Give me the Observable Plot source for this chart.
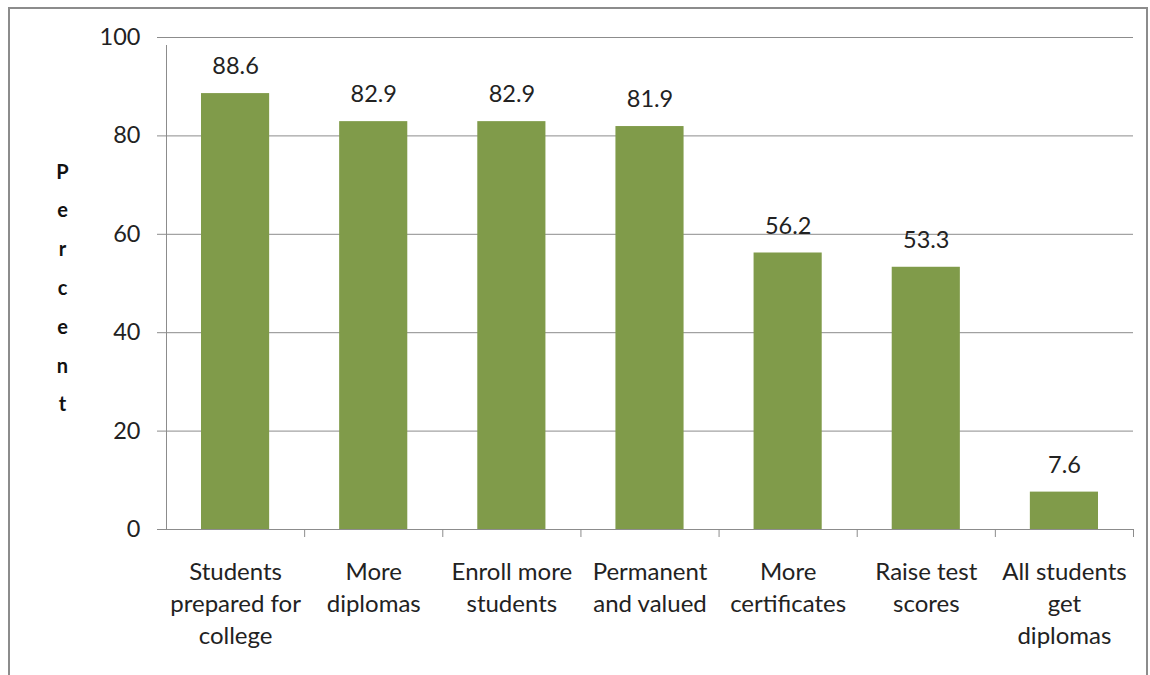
<!DOCTYPE html>
<html>
<head>
<meta charset="utf-8">
<script src="https://cdn.jsdelivr.net/npm/d3@7"></script>
<script src="https://cdn.jsdelivr.net/npm/@observablehq/plot@0.6"></script>
<style>
  html, body { margin: 0; padding: 0; background: #fff; overflow: hidden; }
  #frame { position: absolute; left: 8px; top: 7px; width: 1136px; height: 720px; border: 2px solid #8c8c8c; }
  #chart { position: absolute; left: 0; top: 0; }
</style>
</head>
<body>
<div id="frame"></div>
<div id="chart"></div>
<script>
const categories = ["Students prepared for college", "More diplomas", "Enroll more students", "Permanent and valued", "More certificates", "Raise test scores", "All students get diplomas"];
const wrappedLabels = ["Students\nprepared for\ncollege", "More\ndiplomas", "Enroll more\nstudents", "Permanent\nand valued", "More\ncertificates", "Raise test\nscores", "All students\nget\ndiplomas"];
const values = [88.6, 82.9, 82.9, 81.9, 56.2, 53.3, 7.6];
const yTicks = [0, 20, 40, 60, 80, 100];
const yTitle = "Percent";

const data = categories.map((c, i) => ({i, cat: c, label: wrappedLabels[i], value: values[i]}));
const font = "Lato, 'Open Sans', sans-serif";
const gray = "#8c8c8c";

const chart = Plot.plot({
  width: 1150,
  height: 675,
  marginLeft: 166,
  marginRight: 17,
  marginTop: 37,
  marginBottom: 146,
  x: {domain: [0, categories.length], axis: null},
  y: {domain: [0, 100], axis: null},
  style: {fontFamily: font, background: "transparent", overflow: "visible"},
  marks: [
    Plot.ruleY(yTicks.filter(d => d > 0), {stroke: gray, strokeWidth: 1}),
    Plot.rectY(data, {x1: "i", x2: d => d.i + 1, y: "value", fill: "#809b4a", insetLeft: 35, insetRight: 35}),
    Plot.ruleY([0], {stroke: gray, strokeWidth: 1}),
    Plot.ruleX([0], {y1: 0, y2: 100, insetBottom: -8, stroke: gray}),
    Plot.ruleX(d3.range(1, categories.length + 1), {x: d => d, y1: 0, y2: 0, insetBottom: -8, stroke: gray}),
    Plot.ruleY(yTicks, {y: d => d, x1: 0, x2: 0, insetLeft: -9, stroke: gray}),
    Plot.text(yTicks, {y: d => d, frameAnchor: "left", textAnchor: "end", dx: -26, fontSize: 23.5, fill: "#222", text: d => String(d)}),
    Plot.text(data, {x: d => d.i + 0.5, y: "value", text: d => d.value.toFixed(1), dy: -27, fontSize: 23.5, fill: "#222"}),
    Plot.text(data, {x: d => d.i + 0.5, y: 0, text: "label", lineAnchor: "top", dy: 28, lineHeight: 32 / 24, fontSize: 24, fill: "#222"}),
    Plot.text([yTitle.split("").join("\n")], {frameAnchor: "left", dx: -104, dy: -1, textAnchor: "middle", lineHeight: 38.8 / 20, fontSize: 20, fontWeight: "bold", fill: "#111"})
  ]
});
document.getElementById("chart").appendChild(chart);
</script>
</body>
</html>
